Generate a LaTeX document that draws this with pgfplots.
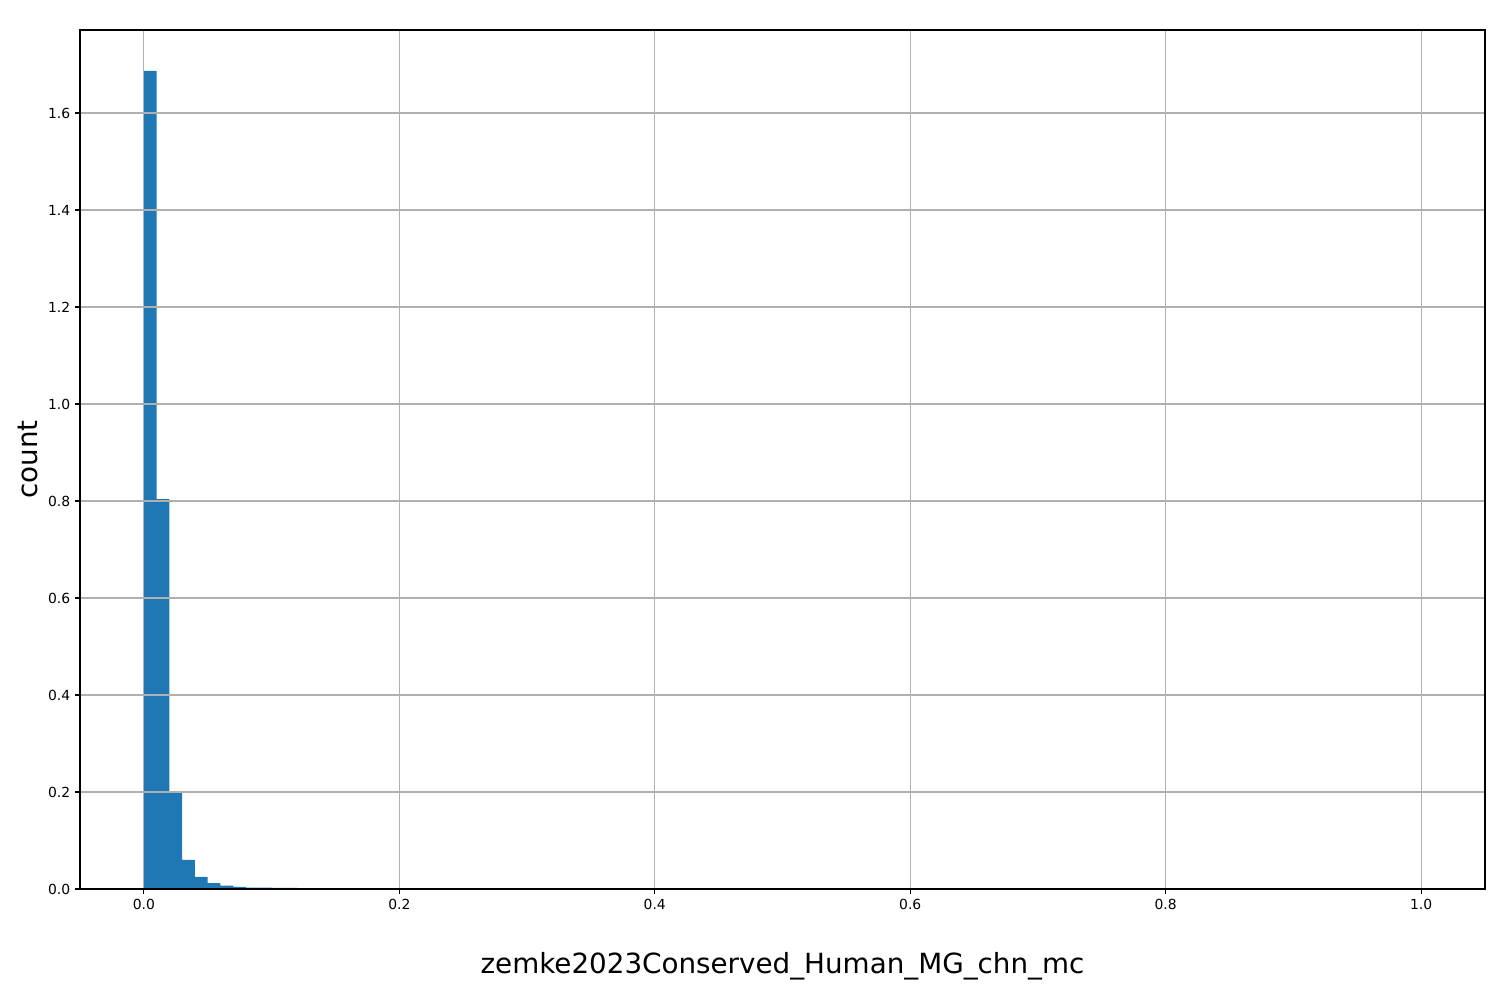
\documentclass[border=0pt]{standalone}
\usepackage{fontspec}
\setmainfont{DejaVu Sans}
\usepackage{pgfplots}
\pgfplotsset{compat=1.18}
\definecolor{mplblue}{HTML}{1F77B4}
\definecolor{mplgrid}{HTML}{B0B0B0}
\begin{document}
\begin{tikzpicture}
\begin{axis}[
  scale only axis,
  width=1011.6pt, height=618.5pt,
  at={(0,0)}, anchor=south west,
  xmin=-0.05, xmax=1.05, ymin=0, ymax=1.7711,
  axis on top,
  grid=major,
  major grid style={mplgrid, line width=0.8pt},
  axis line style={black, line width=0.8pt},
  tick style={black, line width=0.8pt},
  tick align=outside,
  tick pos=left,
  major tick length=3.5pt,
  xtick={0,0.2,0.4,0.6,0.8,1.0},
  ytick={0,0.2,0.4,0.6,0.8,1.0,1.2,1.4,1.6},
  xticklabel style={/pgf/number format/.cd, fixed, fixed zerofill, precision=1},
  yticklabel style={/pgf/number format/.cd, fixed, fixed zerofill, precision=1},
  /pgf/number format/assume math mode=true,
  tick label style={font=\fontsize{10}{12}\selectfont},
  xlabel={zemke2023Conserved\_Human\_MG\_chn\_mc},
  ylabel={count},
  label style={font=\fontsize{20}{24}\selectfont},
  xlabel style={at={(axis description cs:0.5,-0.0896)}, anchor=center},
  ylabel style={at={(axis description cs:-0.037,0.5)}, anchor=center},
  clip=true,
]
\addplot[ybar interval, fill=mplblue, draw=none] coordinates {
(0.00,1.687) (0.01,0.804) (0.02,0.200) (0.03,0.060) (0.04,0.025) (0.05,0.012)
(0.06,0.007) (0.07,0.0045) (0.08,0.003) (0.09,0.0028) (0.10,0.0026) (0.11,0.0024) (0.12,0)
};
\node[anchor=south west, font=\fontsize{10}{12}\selectfont, inner sep=0pt] at (rel axis cs:0,1) [yshift=3pt] {1e9};
\end{axis}
\path[use as bounding box] (-57.6pt,-79.92pt) rectangle (1022.4pt,640.1pt);
\end{tikzpicture}
\end{document}
